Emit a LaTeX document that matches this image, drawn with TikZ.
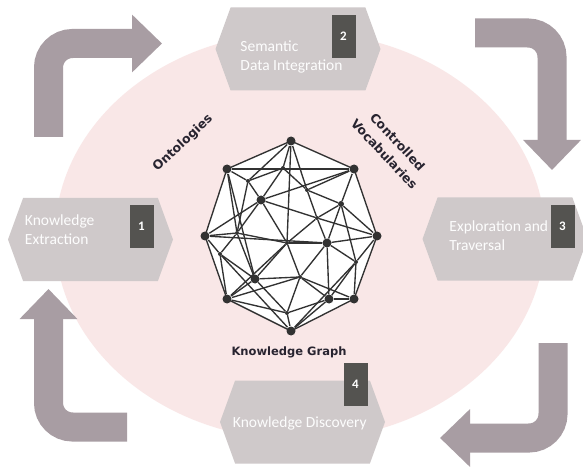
\documentclass[tikz,border=0pt]{standalone}
\usepackage{fontspec}
\setmainfont{Carlito}
\newfontfamily\kgfont{DejaVu Sans}
\usetikzlibrary{shapes.symbols,arrows.meta,positioning}
\definecolor{blush}{RGB}{249,231,231}
\definecolor{hexgray}{RGB}{207,201,202}
\definecolor{boxgray}{RGB}{84,83,80}
\definecolor{flowgray}{RGB}{168,157,163}
\definecolor{edgegray}{RGB}{50,50,50}
\definecolor{inkdark}{RGB}{40,36,48}
\begin{document}
\begin{tikzpicture}[x=1pt,y=-1pt]
  \tikzstyle{stage}=[signal,signal to=east and west,signal pointer angle=140,
                     fill=hexgray,minimum width=165pt,minimum height=83pt,inner sep=0pt]
  \tikzstyle{stage text}=[text=white!96!hexgray,font=\fontsize{15.5}{19}\selectfont,
                          align=left,anchor=west,inner sep=0pt]
  \tikzstyle{num}=[fill=boxgray,minimum width=24pt,minimum height=43pt,inner sep=0pt,
                   text=white,font=\fontsize{13}{13}\selectfont\bfseries]
  \tikzstyle{flow}=[line width=29pt,draw=flowgray,rounded corners=24pt,
                    -{Triangle[width=56pt,length=30pt]}]
  \tikzstyle{kg edge}=[draw=edgegray,line width=1.35pt]
  \tikzstyle{kg dot}=[circle,fill=edgegray,inner sep=0pt,minimum size=9pt]
  \tikzstyle{kg small}=[kg dot,minimum size=4pt]
  \tikzstyle{kg label}=[text=inkdark,font=\kgfont\bfseries\fontsize{12.5}{18}\selectfont]

  \useasboundingbox[fill=white] (0,0) rectangle (583,470);
  \fill[blush] (300,236) ellipse [x radius=245, y radius=204];

  \draw[flow] (48.5,137) -- (48.5,43.5) -- (162,43.5);
  \draw[flow] (475,33) -- (552,33) -- (552,170);
  \draw[flow] (553,343) -- (553,438) -- (440,438);
  \draw[flow] (127,427) -- (48.5,427) -- (48.5,289);

  \node[stage] (s_1) at (90.5,239.5) {};
  \node[stage] (s_2) at (298,49) {};
  \node[stage] (s_3) at (505,239) {};
  \node[stage] (s_4) at (302.5,422) {};

  \node[stage text] (t_1) at ([xshift=17pt,yshift=10pt]s_1.west) {Knowledge\\Extraction};
  \node[stage text] (t_2) at ([xshift=25pt,yshift=-8pt]s_2.west) {Semantic\\Data Integration};
  \node[stage text] (t_3) at ([xshift=27pt,yshift=3pt]s_3.west) {Exploration and\\Traversal};
  \node[stage text] (t_4) at ([xshift=13pt,yshift=-1pt]s_4.west) {Knowledge Discovery};

  \node[num] (n_1) at (141.5,226.5) {1};
  \node[num] (n_2) at (343.5,36.5) {2};
  \node[num] (n_3) at (562.5,226.5) {3};
  \node[num] (n_4) at (355.5,384) {4};

  \draw[kg edge,fill=white] (291,141) node[kg dot] (v_1) {}
    -- (354,169) node[kg dot] (v_2) {}
    -- (377,236) node[kg dot] (v_3) {}
    -- (354,299) node[kg dot] (v_4) {}
    -- (291,331) node[kg dot] (v_5) {}
    -- (227,299) node[kg dot] (v_6) {}
    -- (205,236) node[kg dot] (v_7) {}
    -- (227,169) node[kg dot] (v_8) {}
    -- cycle;

  \node[kg dot] (w_1) at (261,200) {};
  \node[kg dot] (w_2) at (327,243) {};
  \node[kg dot] (w_3) at (255,279) {};
  \node[kg dot] (w_4) at (329,299) {};
  \node[kg small,minimum size=6pt] (w_5) at (341,204) {};
  \node[kg small] (w_6) at (248,181) {};
  \node[kg small] (w_7) at (307,190) {};
  \node[kg small] (w_8) at (220,254) {};
  \node[kg small] (w_9) at (287,313) {};
  \node[kg small] (w_10) at (300,277) {};
  \node[kg small] (w_11) at (287,243) {};
  \node[kg small] (w_12) at (237,233) {};
  \node[kg small] (w_13) at (283,168) {};
  \node[kg small] (w_14) at (356,262) {};
  \node[kg small] (w_15) at (317,218) {};

  \foreach \a/\b in {v_1/w_6,v_1/w_13,v_1/w_7,v_2/w_7,v_2/w_5,v_3/w_5,v_3/w_14,
      v_4/w_14,v_4/w_4,v_5/w_4,v_5/w_9,v_6/w_9,v_6/w_3,v_6/w_8,v_7/w_8,v_7/w_12,
      v_8/w_6,v_8/w_12,w_6/w_13,w_6/w_1,w_6/w_12,w_13/w_1,w_13/w_7,w_7/w_15,w_7/w_5,
      w_1/w_12,w_1/w_11,w_1/w_15,w_5/w_15,w_5/w_2,w_5/w_14,w_15/w_11,w_15/w_2,
      w_12/w_8,w_12/w_11,w_12/w_3,w_8/w_3,w_11/w_3,w_11/w_10,w_11/w_2,w_2/w_14,
      w_2/w_10,w_2/w_4,w_14/w_4,w_10/w_4,w_10/w_9,w_10/w_3,w_9/w_3,w_9/w_4,
      v_8/v_2,v_7/w_2,v_8/w_3,v_6/w_10,v_1/w_11,v_4/w_10,v_3/w_15,v_2/w_1,v_5/w_8,
      v_7/w_1,v_3/w_2,v_6/w_11,v_5/w_14}
    \draw[kg edge] (\a) -- (\b);

  \node[kg label,rotate=43] (onto) at (183,143) {Ontologies};
  \node[kg label,rotate=-47,align=center] (vocab) at (391,148) {Controlled\\Vocabularies};
  \node[kg label,font=\kgfont\bfseries\fontsize{11.5}{14}\selectfont] (kg) at (289,352) {Knowledge Graph};
\end{tikzpicture}
\end{document}
